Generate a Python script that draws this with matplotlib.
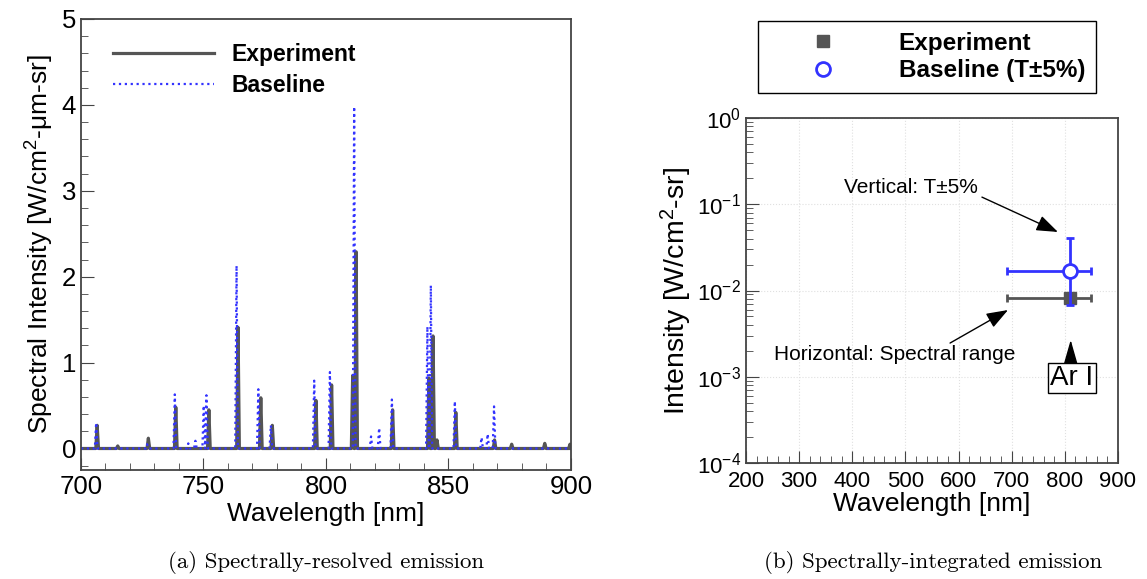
import matplotlib.pyplot as plt
from matplotlib.ticker import MultipleLocator, LogLocator, NullFormatter
import numpy as np

plt.rcParams['font.family'] = ['Liberation Sans', 'DejaVu Sans']
plt.rcParams['mathtext.fontset'] = 'custom'
plt.rcParams['mathtext.rm'] = 'Liberation Sans'
plt.rcParams['mathtext.it'] = 'Liberation Sans:italic'
plt.rcParams['mathtext.bf'] = 'Liberation Sans:bold'

# spectrally resolved emission: peak centres [nm] and heights
exp_wl = [706.6, 715.0, 727.5, 738.7, 752.2, 764.1, 773.4, 778.1, 795.9, 802.3,
          810.9, 812.3, 827.2, 842.0, 843.7, 845.3, 853.0, 868.8, 875.8, 889.3, 899.6]
exp_h = [0.27, 0.03, 0.12, 0.48, 0.45, 1.41, 0.59, 0.27, 0.56, 0.74,
         0.85, 2.29, 0.45, 0.82, 1.31, 0.10, 0.42, 0.10, 0.05, 0.06, 0.05]

base_wl = [706.2, 727.0, 738.3, 743.8, 746.7, 750.1, 751.2, 763.5, 772.4, 777.5,
           795.2, 801.6, 811.5, 818.4, 821.7, 826.9, 841.4, 842.8, 852.6, 863.5,
           866.0, 868.6]
base_h = [0.30, 0.05, 0.63, 0.06, 0.09, 0.50, 0.62, 2.13, 0.69, 0.27,
          0.79, 0.89, 3.98, 0.14, 0.24, 0.57, 1.42, 1.90, 0.55, 0.13,
          0.17, 0.49]

# spectrally integrated emission (Ar I)
int_wl = [810.0]
int_lo = [692.0]
int_hi = [849.0]
exp_int = [0.0082]
base_int = [0.0168]
base_int_lo = [0.0068]
base_int_hi = [0.0406]


def peaks_to_line(wl, h, hw=0.55):
    xs, ys = [700.0], [0.0]
    for c, v in zip(wl, h):
        xs += [c - hw, c, c + hw]
        ys += [0.0, v, 0.0]
    xs.append(900.0)
    ys.append(0.0)
    return xs, ys


gray = '#555555'
blue = '#3333ff'
spine_c = '#444444'

fig = plt.figure(figsize=(11.47, 5.79), dpi=100)

# ---- (a) spectrum
ax1 = fig.add_axes([0.0706, 0.1883, 0.4272, 0.7789])
x, y = peaks_to_line(exp_wl, exp_h)
ax1.plot(x, y, '-', color=gray, lw=2.3, label='Experiment')
x, y = peaks_to_line(base_wl, base_h)
ax1.plot(x, y, ':', color=blue, lw=1.6, label='Baseline')
ax1.set_xlim(700, 900)
ax1.set_ylim(-0.25, 5)
ax1.xaxis.set_major_locator(MultipleLocator(50))
ax1.xaxis.set_minor_locator(MultipleLocator(10))
ax1.yaxis.set_major_locator(MultipleLocator(1))
ax1.yaxis.set_minor_locator(MultipleLocator(0.2))
ax1.tick_params(which='both', direction='in', top=False, right=False, labelsize=18.5, color=spine_c)
ax1.tick_params(which='major', length=9)
ax1.tick_params(which='minor', length=5)
ax1.set_xlabel('Wavelength [nm]', fontsize=19, labelpad=2)
ax1.set_ylabel('Spectral Intensity [W/cm$^2$-\u03bcm-sr]', fontsize=19, labelpad=4)
leg1 = ax1.legend(loc='upper left', bbox_to_anchor=(0.065, 0.947), frameon=False,
                  prop={'weight': 'bold', 'size': 16.5}, handlelength=4.4,
                  handletextpad=0.8, borderpad=0, borderaxespad=0, labelspacing=0.35)

# ---- (b) integrated
ax2 = fig.add_axes([0.6504, 0.2003, 0.3243, 0.5959])
ax2.set_yscale('log')
ax2.grid(True, which='major', ls=':', color='#e0e0e0', lw=0.8)
ax2.errorbar(int_wl, exp_int,
             xerr=[np.subtract(int_wl, int_lo), np.subtract(int_hi, int_wl)],
             fmt='s', color=gray, ms=9, lw=2, capsize=3, capthick=2, zorder=3)
ax2.errorbar(int_wl, base_int,
             xerr=[np.subtract(int_wl, int_lo), np.subtract(int_hi, int_wl)],
             yerr=[np.subtract(base_int, base_int_lo), np.subtract(base_int_hi, base_int)],
             fmt='o', color=blue, mfc='white', mec=blue, mew=2, ms=10, lw=2,
             capsize=3, capthick=2, zorder=4)
ax2.set_xlim(200, 900)
ax2.set_ylim(1e-4, 1)
ax2.xaxis.set_major_locator(MultipleLocator(100))
ax2.xaxis.set_minor_locator(MultipleLocator(20))
ax2.yaxis.set_major_locator(LogLocator(base=10, numticks=10))
ax2.yaxis.set_minor_locator(LogLocator(base=10, subs=np.arange(2, 10), numticks=10))
ax2.yaxis.set_minor_formatter(NullFormatter())
ax2.tick_params(which='both', direction='in', top=False, right=False, labelsize=16, color=spine_c)
ax2.tick_params(which='major', length=9)
ax2.tick_params(which='minor', length=5)
ax2.tick_params(axis='x', pad=6)
ax2.set_xlabel('Wavelength [nm]', fontsize=19, labelpad=0)
ax2.set_ylabel('Intensity [W/cm$^2$-sr]', fontsize=20.5, labelpad=2)

arrow = dict(arrowstyle='-|>,head_length=0.6,head_width=0.22', color='k', lw=1,
             mutation_scale=22, shrinkA=0, shrinkB=0)
ax2.annotate('', xy=(787, 0.0477), xytext=(644, 0.121), arrowprops=arrow)
ax2.text(510, 0.158, 'Vertical: T\u00b15%', fontsize=15, ha='center', va='center')
ax2.annotate('', xy=(693, 0.00594), xytext=(584, 0.00246), arrowprops=arrow)
ax2.text(480, 0.00179, 'Horizontal: Spectral range', fontsize=15, ha='center', va='center')
ax2.annotate('', xy=(811, 0.00267), xytext=(811, 0.00148),
             arrowprops=dict(arrowstyle='-|>,head_length=0.7,head_width=0.2', color='k',
                             lw=1, mutation_scale=28, shrinkA=0, shrinkB=0))
ax2.text(813, 0.00097, 'Ar I', fontsize=20, ha='center', va='center',
         bbox=dict(boxstyle='square,pad=0.08', fc='white', ec='k', lw=1))

for ax in (ax1, ax2):
    for s in ax.spines.values():
        s.set_color(spine_c)
        s.set_linewidth(1.3)

h_exp = plt.Line2D([], [], ls='none', marker='s', color=gray, ms=9)
h_base = plt.Line2D([], [], ls='none', marker='o', mfc='white', mec=blue, mew=2, ms=10)
leg2 = fig.legend([h_exp, h_base], ['Experiment', 'Baseline (T\u00b15%)'],
                  loc='center', bbox_to_anchor=(927 / 1147, 1 - 57 / 579),
                  prop={'weight': 'bold', 'size': 17.5}, handlelength=4.5,
                  handletextpad=0.85, borderpad=0.45, labelspacing=0.2,
                  fancybox=False, edgecolor='k', framealpha=1)
leg2.get_frame().set_linewidth(1)

fig.text(326 / 1147, 1 - 562 / 579, '(a) Spectrally-resolved emission', family='cmr10',
         fontsize=16.5, ha='center', va='center')
fig.text(933 / 1147, 1 - 562 / 579, '(b) Spectrally-integrated emission', family='cmr10',
         fontsize=16.5, ha='center', va='center')

fig.savefig('out.png', dpi=100)
